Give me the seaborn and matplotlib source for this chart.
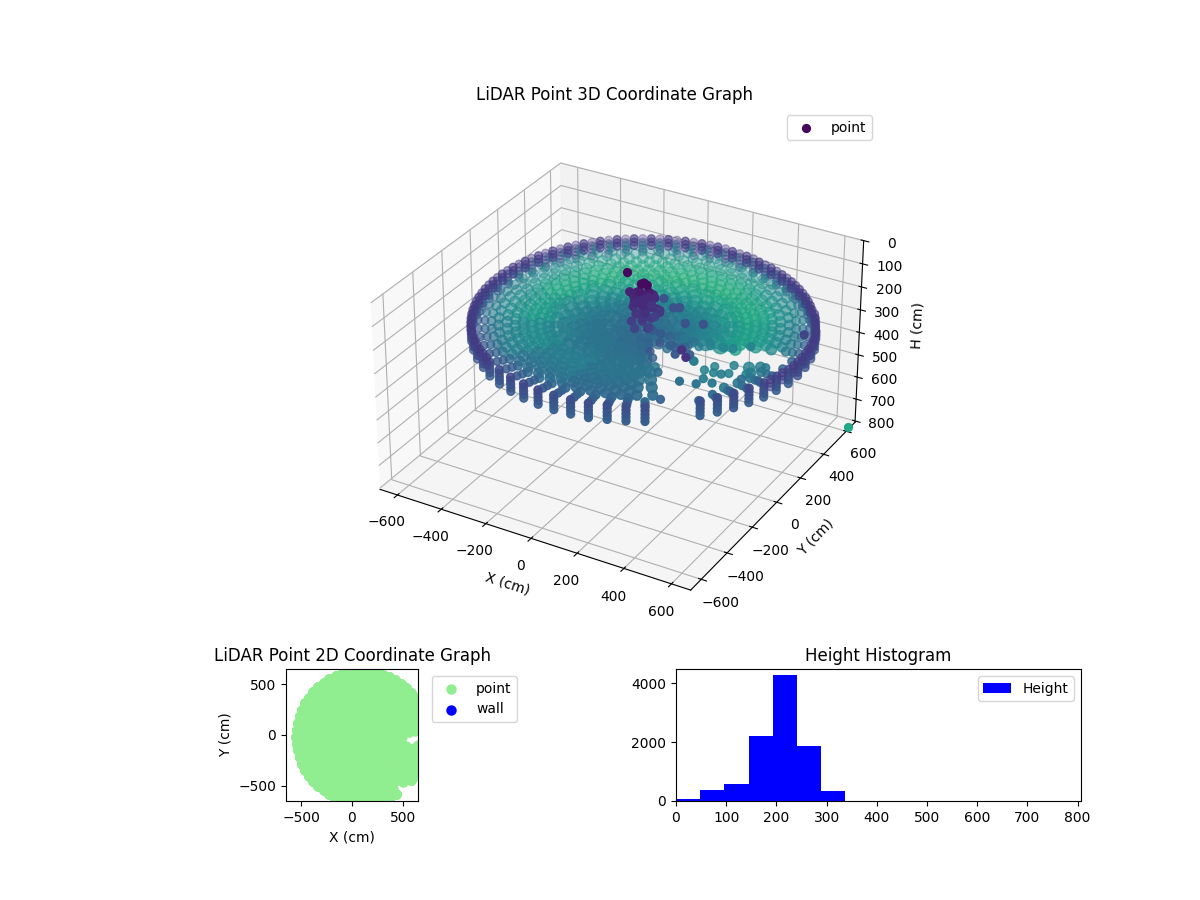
import numpy as np
import pandas as pd
import matplotlib
matplotlib.use('Agg')
import matplotlib.pyplot as plt
import seaborn as sns

nan = float('nan')

# scan centre
scan_x0 = 104
scan_y0 = -16

az_60 = [0,6,12,18,24,30,36,42,48,54,60,66,72,78,84,90,96,102,108,114,120,126,132,138,144,150,156,162,168,174,
         180,186,192,198,204,210,216,222,228,234,240,246,252,258,264,270,276,282,288,294,300,306,312,318,324,330,336,342,348,354]
az_60b = [3,9,15,21,27,33,39,45,51,57,63,69,75,81,87,93,99,105,111,117,123,129,135,141,147,153,159,165,171,177,
          183,189,195,201,207,213,219,225,231,237,243,249,255,261,267,273,279,285,291,297,303,309,315,321,327,333,339,345,351,357]
az_30 = [0,12,24,36,48,60,72,84,96,108,120,132,144,156,168,180,192,204,216,228,240,252,264,276,288,300,312,324,336,348]
az_30b = [6,18,30,42,54,66,78,90,102,114,126,138,150,162,174,186,198,210,222,234,246,258,270,282,294,306,318,330,342,354]
az_12 = [0,30,60,90,120,150,180,210,240,270,300,330]
az_6 = [0,60,120,180,240,300]

# range per azimuth (cm), nan = no return
rim_r = [653,653,653,653,648,648,643,643,643,643,643,643,643,648,648,653,653,653,653,653,653,653,653,653,653,653,653,653,653,653,
         653,653,653,653,653,653,653,653,653,653,658,658,658,658,658,658,658,658,653,653,653,nan,nan,643,643,643,643,648,648,653]
r_627 = [627,627,627,627,627,627,627,627,627,627,627,627,627,627,627,627,627,627,627,627,627,627,627,627,627,627,627,627,627,627,
         627,627,627,627,627,627,627,627,627,627,627,627,627,627,627,627,627,627,627,627,627,nan,nan,627,627,627,627,627,627,627]
r_601 = [nan,601,601,601,601,601,601,601,601,601,601,601,601,601,601,601,601,601,601,601,601,601,601,601,601,601,601,601,601,601,
         601,601,601,601,601,601,601,601,601,601,601,601,601,601,601,601,601,601,601,601,601,nan,nan,nan,601,601,601,601,601,nan]
r_575 = [nan,575,575,575,575,575,575,575,575,575,575,575,575,575,575,575,575,575,575,575,575,575,575,575,575,575,575,575,575,575,
         575,575,575,575,575,575,575,575,575,575,575,575,575,575,575,575,575,575,575,575,nan,nan,nan,nan,nan,575,575,575,575,nan]
r_549 = [nan,549,549,549,549,549,549,549,549,549,549,549,549,549,549,549,549,549,549,549,549,549,549,549,549,549,549,549,549,549,
         549,549,549,549,549,549,549,549,549,549,549,549,549,549,549,549,549,549,549,549,549,nan,nan,nan,nan,nan,nan,549,549,nan]
r_517 = [nan,517,517,517,517,517,517,517,517,517,517,517,517,517,517,517,517,517,517,517,517,517,517,517,517,517,517,517,517,517,
         517,517,517,517,517,517,517,517,517,517,517,517,517,517,517,517,517,517,517,517,nan,nan,nan,nan,nan,nan,nan,nan,517,nan]
r_486 = [nan,486,486,486,486,486,486,486,486,486,486,486,486,486,486,486,486,486,486,486,486,486,486,486,486,486,486,486,486,486,
         486,486,486,486,486,486,486,486,486,486,486,486,486,486,486,486,486,486,486,486,486,nan,nan,nan,nan,nan,nan,nan,nan,nan]
r_455 = [nan,455,455,455,455,455,455,455,455,455,455,455,455,455,455,455,455,455,455,455,455,455,455,455,455,455,455,455,455,455,
         455,455,455,455,455,455,455,455,455,455,455,455,455,455,455,455,455,455,455,455,nan,nan,nan,nan,nan,nan,nan,nan,nan,nan]
r_423 = [nan,423,423,423,423,423,423,423,423,423,423,423,423,423,423,423,423,423,423,423,423,423,423,423,423,423,423,423,423,423,
         423,423,423,423,423,423,423,423,423,423,423,423,423,423,423,423,423,423,423,423,423,nan,nan,nan,nan,nan,nan,nan,nan,nan]
r_392 = [392,392,392,392,392,392,392,392,392,392,392,392,392,392,392,392,392,392,392,392,392,392,392,392,392,392,392,392,392,392,
         392,392,392,392,392,392,392,392,392,392,392,392,392,392,392,392,392,392,392,392,nan,nan,nan,nan,nan,nan,nan,nan,nan,nan]
r_360 = [360,360,360,360,360,360,360,360,360,360,360,360,360,360,360,360,360,360,360,360,360,360,360,360,360,360,360,360,360,360,
         360,360,360,360,360,360,360,360,360,360,360,360,360,360,360,360,360,360,360,360,360,nan,nan,nan,nan,nan,nan,nan,nan,nan]
r_329 = [329,329,329,329,329,329,329,329,329,329,329,329,329,329,329,329,329,329,329,329,329,329,329,329,329,329,nan,nan,nan,nan]
r_298 = [298,298,298,298,298,298,298,298,298,298,298,298,298,298,298,298,298,298,298,298,298,298,298,298,298,nan,nan,nan,nan,nan]
r_266 = [266,266,266,266,266,266,266,266,266,266,266,266,266,266,266,266,266,266,266,266,266,266,266,266,266,266,nan,nan,nan,nan]
r_235 = [235,235,235,235,235,235,235,235,235,235,235,235,235,235,235,235,235,235,235,235,235,235,235,235,235,nan,nan,nan,nan,nan]
r_204 = [204,204,204,204,204,204,204,204,204,204,204,204,204,204,204,204,204,204,204,204,204,204,204,204,204,204,nan,nan,nan,204]
r_172 = [172,172,172,172,172,172,172,172,172,172,172,172,172,172,172,172,172,172,172,172,172,172,172,172,172,nan,nan,nan,nan,172]
r_141 = [141,141,141,141,141,141,141,141,141,141,141,nan]
r_110 = [110,110,110,110,110,110,110,110,110,110,110,110]
r_78 = [78,78,78,78,78,78,78,78,78,78,78,78]
r_47 = [47,47,47,47,47,47]

# colour value per 30 degree sector of each ring
c_rim_a = [.20,.18,.16,.15,.15,.16,.18,.20,.22,.24,.24,.22]
c_rim_b = [.21,.19,.18,.17,.17,.18,.19,.21,.24,.26,.26,.24]
c_rim_c = [.22,.20,.20,.18,.18,.20,.20,.22,.25,.27,.27,.25]
c_rim_d = [.24,.22,.22,.20,.20,.22,.22,.24,.27,.29,.29,.27]
c_rim_e = [.25,.25,.25,.22,.22,.25,.25,.27,.28,.30,.30,.28]
c_627 = [.32,.34,.36,.36,.36,.34,.30,.28,.28,.30,.32,.32]
c_601 = [.38,.42,.44,.44,.44,.42,.36,.32,.30,.32,.34,.36]
c_575 = [.42,.46,.47,.47,.47,.45,.42,.38,.34,.33,.35,.40]
c_549 = [.45,.48,.50,.50,.50,.48,.46,.42,.36,.34,.36,.42]
c_517 = [.48,.51,.54,.54,.54,.51,.48,.44,.38,.35,.36,.44]
c_486 = [.52,.55,.58,.58,.58,.55,.50,.46,.40,.36,.36,.46]
c_455 = [.54,.58,.60,.60,.60,.58,.53,.47,.41,.37,.38,.46]
c_423 = [.56,.60,.62,.62,.62,.60,.55,.48,.42,.38,.38,.46]
c_392 = [.56,.60,.63,.63,.63,.60,.55,.48,.42,.38,.38,.46]
c_360 = [.54,.58,.62,.64,.62,.58,.52,.46,.42,.38,.38,.44]
c_329 = [.50,.54,.58,.60,.58,.54,.48,.44,.40,.38,.36,.42]
c_298 = [.48,.52,.56,.58,.56,.52,.46,.42,.40,.38,.36,.40]
c_266 = [.46,.49,.53,.55,.53,.49,.44,.41,.39,.37,.35,.39]
c_235 = [.44,.46,.50,.52,.50,.46,.42,.40,.38,.36,.34,.38]
c_204 = [.42,.44,.47,.49,.47,.44,.41,.39,.38,.36,.33,.36]
c_172 = [.40,.42,.44,.46,.44,.42,.40,.38,.37,.35,.32,.35]
c_141 = [.39,.40,.41,.42,.41,.40,.39,.38,.37,.35,.33,.35]
c_110 = [.38,.38,.38,.38,.38,.38,.38,.37,.36,.35,.33,.35]
c_78 = [.37,.37,.37,.37,.37,.37,.37,.36,.36,.35,.34,.35]
c_47 = [.36,.36,.36,.36,.36,.36,.36,.36,.36,.36,.36,.36]

# azimuth, range, height, colour, 3D marker size of each ring
rings = [
    (az_60, rim_r, 165, c_rim_a, 32),
    (az_60, rim_r, 180, c_rim_b, 32),
    (az_60, rim_r, 195, c_rim_c, 32),
    (az_60, rim_r, 210, c_rim_d, 32),
    (az_60, rim_r, 225, c_rim_e, 32),
    (az_60, r_627, 172, c_627, 32),
    (az_60, r_601, 174, c_601, 32),
    (az_60, r_575, 176, c_575, 40),
    (az_60b, r_549, 178, c_549, 50),
    (az_60, r_517, 180, c_517, 60),
    (az_60b, r_486, 182, c_486, 60),
    (az_60, r_455, 184, c_455, 70),
    (az_60b, r_423, 186, c_423, 70),
    (az_60, r_392, 188, c_392, 70),
    (az_60b, r_360, 190, c_360, 70),
    (az_30, r_329, 192, c_329, 120),
    (az_30b, r_298, 194, c_298, 120),
    (az_30, r_266, 196, c_266, 120),
    (az_30b, r_235, 198, c_235, 120),
    (az_30, r_204, 200, c_204, 120),
    (az_30b, r_172, 202, c_172, 120),
    (az_12, r_141, 204, c_141, 150),
    (az_12, r_110, 206, c_110, 150),
    (az_12, r_78, 208, c_78, 150),
    (az_6, r_47, 210, c_47, 150),
]

# extra rim returns along the back and the two sides
rim_fill_az = [3,9,15,21,27,33,39,45,51,57,63,69,75,81,87,93,99,105,111,117,123,129,135,141,147,153,159,165,171,177,
               183,189,195,201,207,213,219,225,231,237,345,351,357]
rim_fill_r = [653,653,653,653,648,648,643,643,643,643,643,643,643,648,648,653,653,653,653,653,653,653,653,653,653,653,653,653,653,653,
              653,653,653,653,653,653,653,653,653,653,648,648,653]
rim_fill_h = [165,180,195]
rim_fill_c = [.17,.19,.21]

# sparse returns in the open front right sector
sparse_az = [306,306,306,306,306,306,312,312,312,318,318,318,318,318,318,318,324,324,324,330,330,330,330,330,330,330,330,336,336,336,342,342,342,342,342,342,342,342,348,348,348,354,354,354,354]
sparse_r = [125,209,293,376,460,543,439,523,596,105,188,272,355,439,523,596,439,523,596,125,209,293,366,439,502,554,617,439,523,596,146,230,303,366,428,491,554,617,439,523,596,157,230,303,366]
sparse_h = [200,190,170,160,135,200,40,30,100,160,170,150,100,60,40,120,120,150,130,170,180,110,170,170,150,130,170,170,160,150,180,190,160,130,110,160,170,170,130,90,150,190,190,170,170]
sparse_c = [.30,.26,.30,.40,.35,.30,.30,.28,.36,.26,.26,.38,.30,.28,.30,.38,.42,.42,.40,.26,.28,.40,.44,.44,.44,.42,.30,.44,.44,.36,.30,.32,.42,.44,.46,.44,.44,.30,.44,.44,.40,.34,.36,.44,.46]

# lone point at the top, listed apart so it sets the legend colour
lone_x = [20]
lone_y = [5]
lone_h = [2]
lone_c = [.02]

# dark pile in the middle and the stray points around it
pile_x = [105,115,95,90,120,75,105,130,65,100,125,80,145,70,110,135,90,60,120,100,75,140,65,105,165,50,150,45,175,125,85,155,115,70,145,95,160,130,192,212,125,289,351,349,389,682]
pile_y = [-16,-10,-20,-25,-5,-20,-10,-25,-15,-30,-10,0,-30,-30,-20,-15,-5,-20,-35,0,-25,-25,5,-30,-40,-30,0,10,-20,30,25,15,-45,-50,-60,-70,-75,10,56,68,102,-28,0,-164,-204,182]
pile_h = [15,25,20,50,55,60,65,65,75,80,85,90,90,100,105,110,120,125,130,140,150,150,165,170,130,60,120,100,110,95,130,140,150,170,175,185,160,70,130,130,130,130,130,160,160,170]
pile_c = [.03,.03,.03,.08,.08,.10,.10,.12,.10,.12,.12,.10,.15,.12,.12,.14,.12,.14,.14,.15,.16,.17,.18,.18,.18,.10,.14,.12,.16,.12,.14,.16,.16,.18,.18,.20,.20,.12,.25,.25,.25,.25,.25,.15,.15,.20]

# far return at the floor corner, it is off the 2D panel
far_x = [671]
far_y = [634]
far_h = [806]
far_c = [.60]

wall_x = []
wall_y = []

# histogram of heights
height_edges = [0,48,96,145,193,241,289,337,806]
height_counts = [80,385,590,2215,4280,1875,350,1]
height_mid = [24,72,120,169,217,265,313,570]

# build the point tables
rows = []
for az, rng, h, sector_c, size in rings:
    for a, r in zip(az, rng):
        if r == r:
            rad = np.deg2rad(a)
            rows.append((scan_x0 + r*np.cos(rad), scan_y0 + r*np.sin(rad), h, sector_c[int(a//30)], size))
for a, r, h, c in zip(sparse_az, sparse_r, sparse_h, sparse_c):
    rad = np.deg2rad(a)
    rows.append((scan_x0 + r*np.cos(rad), scan_y0 + r*np.sin(rad), h, c, 32))
points = pd.DataFrame(rows, columns=['x', 'y', 'h', 'c', 'size'])
pile = pd.DataFrame({'x': pile_x, 'y': pile_y, 'h': pile_h, 'c': pile_c})

rows = []
for h, c in zip(rim_fill_h, rim_fill_c):
    for a, r in zip(rim_fill_az, rim_fill_r):
        rad = np.deg2rad(a)
        rows.append((scan_x0 + r*np.cos(rad), scan_y0 + r*np.sin(rad), h, c))
rim_fill = pd.DataFrame(rows, columns=['x', 'y', 'h', 'c'])

fig = plt.figure(figsize=(12, 9), dpi=100)

#3D graph
ax3d = fig.add_axes([351/1200, 264/900, 528/1200, 528/900], projection='3d')
ax3d.computed_zorder = False
ax3d.set_box_aspect((1, 1, 0.6), zoom=1.0)
ax3d.scatter(points['x'], points['y'], points['h'], c=points['c'], s=points['size'],
             cmap='viridis', vmin=0, vmax=1)
ax3d.scatter(rim_fill['x'], rim_fill['y'], rim_fill['h'], c=rim_fill['c'], s=32, cmap='viridis', vmin=0, vmax=1,
             depthshade=False, alpha=0.6)
ax3d.scatter(pile['x'], pile['y'], pile['h'], c=pile['c'], s=32, cmap='viridis', vmin=0, vmax=1,
             depthshade=False)
ax3d.scatter(far_x, far_y, far_h, c=far_c, s=32, cmap='viridis', vmin=0, vmax=1, depthshade=False)
ax3d.scatter(lone_x, lone_y, lone_h, c=lone_c, s=32, cmap='viridis', vmin=0, vmax=1,
             depthshade=False, label='point')
ax3d.set_xlim(-680, 680)
ax3d.set_ylim(-680, 680)
ax3d.set_zlim(806, 0)
ax3d.set_xticks([-600, -400, -200, 0, 200, 400, 600])
ax3d.set_yticks([-600, -400, -200, 0, 200, 400, 600])
ax3d.set_zticks([0, 100, 200, 300, 400, 500, 600, 700, 800])
ax3d.set_xlabel('X (cm)')
ax3d.set_ylabel('Y (cm)')
ax3d.set_zlabel('H (cm)')
ax3d.set_title('LiDAR Point 3D Coordinate Graph')
ax3d.legend(loc='upper right')

#2D graph
ax2d = fig.add_axes([286/1200, 99/900, 132/1200, 132/900])
all_x = pd.concat([points['x'], pile['x']], ignore_index=True)
all_y = pd.concat([points['y'], pile['y']], ignore_index=True)
sns.scatterplot(x=all_x, y=all_y, color='lightgreen', s=36, edgecolor='lightgreen', linewidth=1.5, label='point', ax=ax2d)
ax2d.scatter(wall_x, wall_y, color='blue', s=36, linewidth=1.5, label='wall')
ax2d.set_xlim(-650, 650)
ax2d.set_ylim(-650, 650)
ax2d.set_xticks([-500, 0, 500])
ax2d.set_yticks([-500, 0, 500])
ax2d.set_xlabel('X (cm)')
ax2d.set_ylabel('Y (cm)')
ax2d.set_title('LiDAR Point 2D Coordinate Graph')
ax2d.legend(bbox_to_anchor=(1.05, 1), loc='upper left')

#Height histogram
ax_hist = fig.add_axes([676/1200, 99/900, 404.7/1200, 132/900])
sns.histplot(x=height_mid, weights=height_counts, bins=height_edges, color='blue', alpha=1,
             linewidth=0, label='Height', ax=ax_hist)
ax_hist.set_xlim(0, 806)
ax_hist.set_ylim(0, 4475)
ax_hist.set_xticks([0, 100, 200, 300, 400, 500, 600, 700, 800])
ax_hist.set_yticks([0, 2000, 4000])
ax_hist.set_xlabel('')
ax_hist.set_ylabel('')
ax_hist.set_title('Height Histogram')
ax_hist.legend(loc='upper right')

fig.savefig('out.png', dpi=100)
